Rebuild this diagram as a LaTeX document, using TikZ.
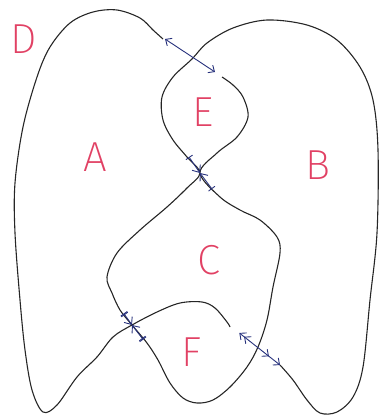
\documentclass[tikz,border=0pt]{standalone}
\usepackage{tikz}
\usetikzlibrary{positioning,arrows.meta}
\usepackage{fontspec}
\newfontfamily\handfont{Fira Sans ExtraLight}

\definecolor{inkred}{RGB}{225,65,100}
\definecolor{inkblue}{RGB}{40,50,125}

\begin{document}
\begin{tikzpicture}[
        x=1pt, y=-1pt,
        every node/.style={font=\handfont\fontsize{42}{42}\selectfont, text=inkred, inner sep=0pt},
        strand/.style={line width=1.1pt, black!85, line join=round},
        swap/.style={inkblue, line width=0.9pt, {Straight Barb[length=5pt,width=9pt]}-{Straight Barb[length=5pt,width=9pt]}},
        swaptwo/.style={inkblue, line width=0.9pt, {Straight Barb[length=5pt,width=9pt,sep=8pt]Straight Barb[length=5pt,width=9pt]}-{Straight Barb[length=5pt,width=9pt,sep=8pt]Straight Barb[length=5pt,width=9pt]}},
        onebar/.style={inkblue, line width=0.9pt, {Bar[width=8pt]}-{Straight Barb[length=6pt,width=10pt]}},
        twobar/.style={inkblue, line width=0.9pt, {Bar[width=8pt,sep=3pt]Bar[width=8pt]}-{Straight Barb[length=6pt,width=10pt]}}
    ]
    \useasboundingbox (0,0) rectangle (380,416);

    % ends of the two gaps and the two crossings
    \coordinate (topa) at (165,39);
    \coordinate (topb) at (215,72);
    \coordinate (lowa) at (233,328);
    \coordinate (lowb) at (280,365);
    \coordinate (midx) at (200,173);
    \coordinate (midu) at (189,157);
    \coordinate (midd) at (212,189);
    \coordinate (botx) at (132,325);
    \coordinate (botu) at (122,311);
    \coordinate (botd) at (145,342);

    \draw[strand] plot[smooth, tension=0.55] coordinates {
        (163,39) (153,30) (140,18) (117,10) (93,12) (70,23) (50,47) (37,77)
        (23,127) (15,183) (15,233) (20,300) (25,350) (32,390) (43,412)
        (57,405) (77,377) (97,357) (113,337) (132,325) (157,312) (180,303)
        (202,302) (215,308) (227,322) (230,327)};
    \draw[strand] plot[smooth, tension=0.55] coordinates {
        (280,365) (293,380) (307,400) (320,413) (337,412) (353,397) (363,367)
        (370,300) (377,233) (378,150) (373,100) (360,67) (337,40) (307,25)
        (267,20) (233,28) (207,43) (192,59) (173,77) (162,97) (163,120)
        (173,140) (187,157) (200,173) (187,188) (167,207) (140,230) (117,253)
        (107,277) (112,293) (120,310) (132,325) (147,343) (158,360) (170,383)
        (183,398) (197,403) (213,400) (230,387) (247,367) (258,347) (267,320)
        (273,287) (280,253) (277,237) (260,220) (240,210) (220,197) (200,173)
        (217,153) (237,137) (248,117) (243,97) (233,85) (222,77)};

    \draw[swap] (topa) -- (topb);
    \draw[swaptwo] (lowa) -- (lowb);
    \draw[onebar] (midu) -- (midx);
    \draw[onebar] (midd) -- (midx);
    \draw[twobar] (botu) -- (botx);
    \draw[twobar] (botd) -- (botx);

    \node (D) at (24,39) {D};
    \node (E) at (203,112) {E};
    \node (A) at (95,157) {A};
    \node (B) at (318,165) {B};
    \node (C) at (209,260) {C};
    \node (F) at (192,352) {F};
\end{tikzpicture}
\end{document}
